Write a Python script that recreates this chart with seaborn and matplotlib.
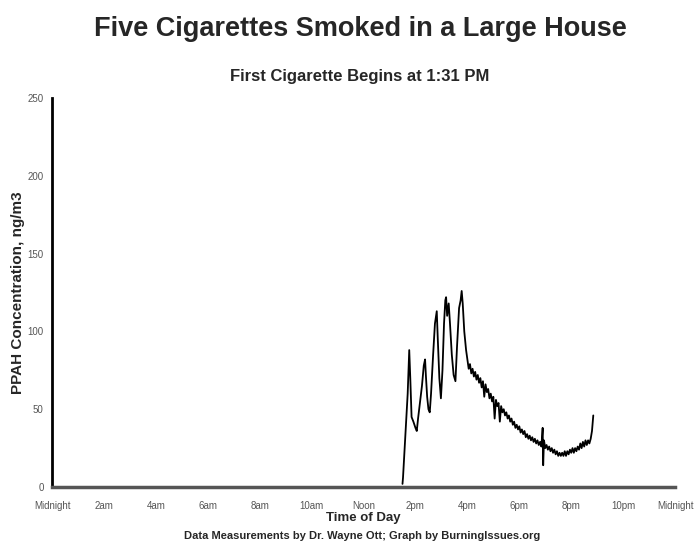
import matplotlib
matplotlib.use("Agg")
from matplotlib import pyplot as plt
import pandas as pd
import seaborn as sns

# time of day (hours after midnight) and PPAH concentration (ng/m3)
hours = [
    13.50, 13.52, 13.60, 13.70, 13.76, 13.80, 13.85, 13.92, 14.00, 14.05,
    14.10, 14.18, 14.25, 14.32, 14.37, 14.40, 14.45, 14.50, 14.55, 14.60,
    14.68, 14.75, 14.82, 14.86, 14.92, 14.98, 15.04, 15.10, 15.15, 15.18,
    15.22, 15.28, 15.33, 15.40, 15.47, 15.54, 15.60, 15.68, 15.74, 15.78,
    15.82, 15.88, 15.95,
    16.00, 16.05, 16.10, 16.15, 16.20, 16.25, 16.30, 16.35, 16.40, 16.45,
    16.50, 16.55, 16.60, 16.65, 16.70, 16.75, 16.80, 16.85, 16.90, 16.95,
    17.00, 17.05, 17.10, 17.15, 17.20, 17.25, 17.30, 17.35, 17.40, 17.45,
    17.50, 17.55, 17.60, 17.65, 17.70, 17.75, 17.80, 17.85, 17.90, 17.95,
    18.00, 18.05, 18.10, 18.15, 18.20, 18.25, 18.30, 18.35, 18.40, 18.45,
    18.50, 18.55, 18.60, 18.65, 18.70, 18.75, 18.80, 18.85, 18.90, 18.92,
    18.95, 19.00, 19.05, 19.10, 19.15, 19.20, 19.25, 19.30, 19.35, 19.40,
    19.45, 19.50, 19.55, 19.60, 19.65, 19.70, 19.75, 19.80, 19.85, 19.90,
    19.95, 20.00, 20.05, 20.10, 20.15, 20.20, 20.25, 20.30, 20.35, 20.40,
    20.45, 20.50, 20.55, 20.60, 20.65, 20.70, 20.75, 20.80, 20.85,
]
ppah = [
    2, 6, 30, 60, 88, 70, 45, 42, 38, 36,
    44, 55, 65, 78, 82, 72, 58, 50, 48, 60,
    85, 105, 113, 95, 70, 57, 75, 105, 120, 122,
    110, 118, 105, 85, 72, 68, 90, 115, 120, 126,
    118, 100, 88,
    82, 76, 79, 73, 76, 71, 74, 69, 72, 67,
    70, 64, 68, 58, 66, 61, 63, 57, 60, 55,
    58, 44, 56, 52, 54, 42, 52, 48, 50, 46,
    48, 44, 46, 42, 44, 40, 42, 38, 40, 37,
    39, 35, 37, 34, 36, 32, 34, 31, 33, 30,
    32, 29, 31, 28, 30, 27, 29, 26, 38, 14,
    30, 25, 27, 24, 26, 23, 25, 22, 24, 21,
    23, 20, 22, 20, 22, 20, 23, 20, 23, 21,
    24, 22, 25, 22, 25, 23, 26, 24, 28, 25,
    29, 26, 30, 27, 30, 28, 31, 36, 46,
]

tick_hours = [0, 2, 4, 6, 8, 10, 12, 14, 16, 18, 20, 22, 24]
tick_labels = ['Midnight', '2am', '4am', '6am', '8am', '10am', 'Noon',
               '2pm', '4pm', '6pm', '8pm', '10pm', 'Midnight']
y_ticks = [0, 50, 100, 150, 200, 250]

df = pd.DataFrame({'hour': hours, 'ppah': ppah})

sns.set_style('white')
plt.rcParams['font.family'] = ['Liberation Sans', 'DejaVu Sans']

fig = plt.figure(figsize=(6.94, 5.41), dpi=100)
ax = fig.add_axes([0.075, 0.0998, 0.8977, 0.719])

sns.lineplot(data=df, x='hour', y='ppah', color='black', linewidth=1.3, ax=ax)

ax.set_xlim(0, 24)
ax.set_ylim(0, 250)
ax.set_xticks(tick_hours)
ax.set_xticklabels(tick_labels)
ax.set_yticks(y_ticks)
ax.tick_params(axis='x', length=0, labelsize=7, labelcolor='#555555', pad=10)
ax.tick_params(axis='y', length=0, labelsize=7, labelcolor='#555555', pad=6)

for side in ['top', 'right']:
    ax.spines[side].set_visible(False)
ax.spines['left'].set_linewidth(2)
ax.spines['left'].set_color('black')
ax.spines['bottom'].set_linewidth(2.5)
ax.spines['bottom'].set_color('#555555')

ax.set_xlabel('Time of Day', fontsize=9.5, fontweight='bold', labelpad=1)
ax.set_ylabel('PPAH Concentration, ng/m3', fontsize=11, fontweight='bold', labelpad=2)

fig.text(0.519, 0.946, 'Five Cigarettes Smoked in a Large House',
         ha='center', va='center', fontsize=19.5, fontweight='bold')
fig.text(0.519, 0.859, 'First Cigarette Begins at 1:31 PM',
         ha='center', va='center', fontsize=12, fontweight='bold')
fig.text(0.522, 0.009, 'Data Measurements by Dr. Wayne Ott; Graph by BurningIssues.org',
         ha='center', va='center', fontsize=8, fontweight='bold')

plt.savefig('out.png', dpi=100)
